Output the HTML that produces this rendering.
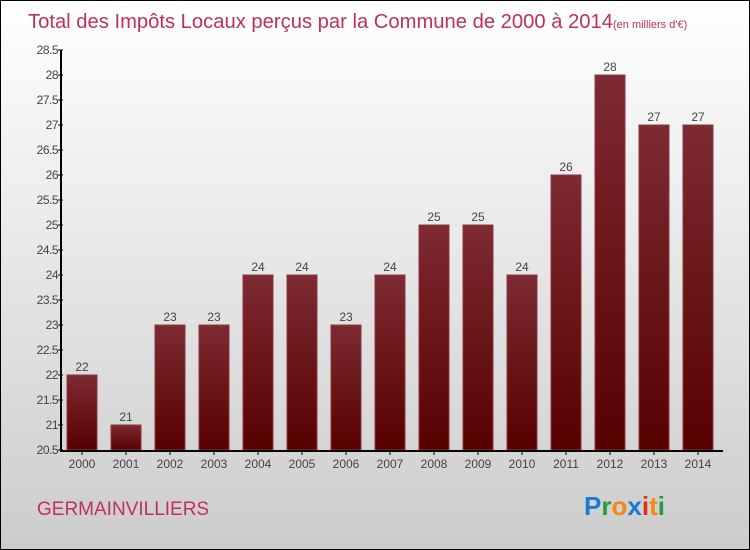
<!DOCTYPE html>
<html><head><meta charset="utf-8"><style>
body{margin:0}
#c{position:relative;width:750px;height:550px;box-sizing:border-box;border:1px solid #000;background:linear-gradient(#fff,#ccc);font-family:"Liberation Sans",sans-serif;overflow:hidden}
</style></head><body>
<div id="c">
<svg id="s" width="748" height="548">
<defs><linearGradient id="g" x1="0" y1="0" x2="0" y2="1"><stop offset="0" stop-color="#7e2a32"/><stop offset="1" stop-color="#560000"/></linearGradient></defs>
<text x="27" y="27" font-size="20" fill="#c0305a" textLength="585" lengthAdjust="spacingAndGlyphs">Total des Impôts Locaux perçus par la Commune de 2000 à 2014</text>
<text x="612" y="27" font-size="11" fill="#c0305a">(en milliers d'€)</text>
<text x="36" y="514" font-size="19" fill="#c0305a">GERMAINVILLIERS</text>
<text x="583" y="514" font-size="26" font-weight="bold"><tspan fill="#1a7ad0">P</tspan><tspan fill="#2a9a3a">r</tspan><tspan fill="#f08a10">o</tspan><tspan fill="#1a7ad0">x</tspan><tspan fill="#e03010">i</tspan><tspan fill="#f08a10">t</tspan><tspan fill="#2a9a3a">i</tspan></text>
<g id="plot"></g>
</svg></div>
<script>
const categories=["2000","2001","2002","2003","2004","2005","2006","2007","2008","2009","2010","2011","2012","2013","2014"];
const values=[22,21,23,23,24,24,23,24,25,25,24,26,28,27,27];
const yTicks=["20.5","21","21.5","22","22.5","23","23.5","24","24.5","25","25.5","26","26.5","27","27.5","28","28.5"];
const NS="http://www.w3.org/2000/svg",p=document.getElementById('plot');
const y=v=>449-(v-20.5)*50, x=i=>81+i*44;
function mk(t,a){const e=document.createElementNS(NS,t);for(const k in a)e.setAttribute(k,a[k]);p.appendChild(e);return e;}
values.forEach((v,i)=>{
 const r=mk('rect',{x:x(i)-15,y:y(v),width:30,height:y(20.5)-y(v),fill:'url(#g)',stroke:'#8a3a40','stroke-width':1});
 
 
 const t=mk('text',{x:x(i),y:y(v)-4,'font-size':12,fill:'#444','text-anchor':'middle'});t.textContent=v;
 
 
 const c=mk('text',{x:x(i),y:467,'font-size':12,fill:'#444','text-anchor':'middle'});c.textContent=categories[i];
 
 
 mk('line',{x1:x(i),x2:x(i),y1:449,y2:454,stroke:'#000'});
});
yTicks.forEach(s=>{const v=+s;
 mk('line',{x1:57,x2:62,y1:y(v),y2:y(v),stroke:'#000'});
 const t=mk('text',{x:57,y:y(v)+4,'font-size':12,fill:'#444','text-anchor':'end','letter-spacing':'-0.5'});t.textContent=s;
 
 
});
const ax=mk('path',{d:'M60,49V450H722',stroke:'#000',fill:'none','stroke-width':2});


</script></body></html>
